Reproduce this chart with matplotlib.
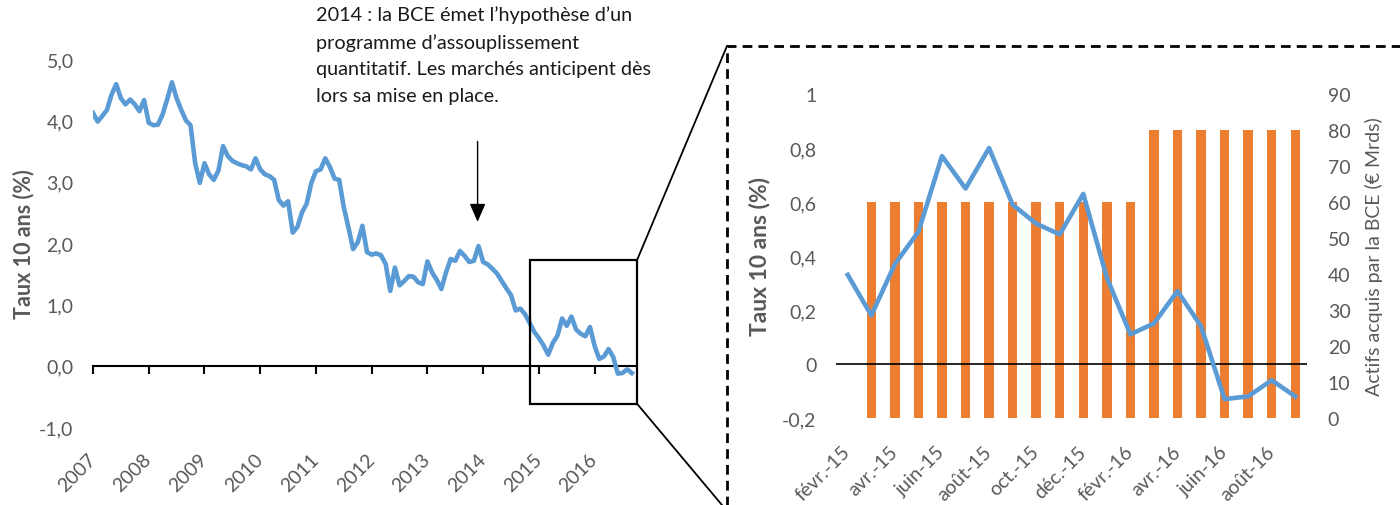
import matplotlib
matplotlib.use('Agg')
import matplotlib.pyplot as plt
from matplotlib.patches import Rectangle, ConnectionPatch
import numpy as np

# ── THEME ────────────────────────────────────────────────────────────────────
GRAY   = '#595959'
BLUE   = '#5B9BD5'
ORANGE = '#ED7D31'
FONT   = ['Lato', 'DejaVu Sans']

plt.rcParams.update({
    'font.family': FONT, 'font.size': 14,
    'xtick.color': GRAY, 'ytick.color': GRAY,
    'xtick.labelcolor': GRAY, 'ytick.labelcolor': GRAY,
})

# ── DATA ─────────────────────────────────────────────────────────────────────
# Taux 10 ans mensuel, janv. 2007 -> sept. 2016 (%)
taux_10ans = [
    4.12, 3.98, 4.07, 4.17, 4.42, 4.59, 4.36, 4.26, 4.34, 4.26, 4.15, 4.33,   # 2007
    3.96, 3.92, 3.93, 4.10, 4.35, 4.62, 4.36, 4.17, 4.00, 3.92, 3.30, 2.98,   # 2008
    3.30, 3.12, 3.03, 3.18, 3.58, 3.42, 3.34, 3.30, 3.27, 3.25, 3.20, 3.38,   # 2009
    3.20, 3.12, 3.09, 3.03, 2.70, 2.61, 2.68, 2.17, 2.26, 2.50, 2.64, 2.98,   # 2010
    3.17, 3.20, 3.38, 3.24, 3.05, 3.03, 2.58, 2.25, 1.90, 2.01, 2.28, 1.85,   # 2011
    1.81, 1.83, 1.80, 1.66, 1.22, 1.60, 1.31, 1.38, 1.46, 1.45, 1.36, 1.33,   # 2012
    1.70, 1.52, 1.40, 1.25, 1.52, 1.74, 1.71, 1.87, 1.79, 1.69, 1.71, 1.95,   # 2013
    1.69, 1.65, 1.58, 1.50, 1.38, 1.26, 1.15, 0.90, 0.93, 0.84, 0.70, 0.55,   # 2014
    0.45, 0.33, 0.18, 0.37, 0.49, 0.77, 0.65, 0.80, 0.59, 0.52, 0.48, 0.63,   # 2015
    0.32, 0.11, 0.15, 0.27, 0.14, -0.13, -0.12, -0.06, -0.12,                 # 2016
]
annees = 2007 + np.arange(len(taux_10ans)) / 12
annee_ticks = list(range(2007, 2017))

# Zoom : févr. 2015 -> sept. 2016
mois = ['févr.-15', 'mars-15', 'avr.-15', 'mai-15', 'juin-15', 'juil.-15',
        'août-15', 'sept.-15', 'oct.-15', 'nov.-15', 'déc.-15', 'janv.-16',
        'févr.-16', 'mars-16', 'avr.-16', 'mai-16', 'juin-16', 'juil.-16',
        'août-16', 'sept.-16']
taux_zoom = taux_10ans[-len(mois):]
actifs_bce = [0, 60, 60, 60, 60, 60, 60, 60, 60, 60, 60, 60, 60,
              80, 80, 80, 80, 80, 80, 80]

NOTE = ("2014 : la BCE émet l’hypothèse d’un\n"
        "programme d’assouplissement\n"
        "quantitatif. Les marchés anticipent dès\n"
        "lors sa mise en place.")

W, H = 1400, 506
fig = plt.figure(figsize=(W / 100, H / 100), dpi=100)

def frac(x0, y0, x1, y1):
    # pixel box (top-left origin) -> figure fraction rect
    return [x0 / W, 1 - y1 / H, (x1 - x0) / W, (y1 - y0) / H]

# ══════════════════════════════════════════════════════════════════════════════
# LEFT : long series
# ══════════════════════════════════════════════════════════════════════════════
ax = fig.add_axes(frac(93, 60, 637, 428))
ax.plot(annees, taux_10ans, color=BLUE, lw=3.3, solid_joinstyle='round',
        zorder=3)
ax.set_xlim(2007, 2016.76)
ax.set_ylim(-1, 5)
ax.set_yticks(np.arange(-1, 5.1, 1))
ax.set_yticklabels([f'{v:.1f}'.replace('.', ',') for v in np.arange(-1, 5.1, 1)])
ax.set_xticks(annee_ticks)
ax.set_xticklabels([str(a) for a in annee_ticks], rotation=45, ha='right',
                   rotation_mode='anchor', va='center')
ax.tick_params(axis='both', length=0, labelsize=14)
ax.tick_params(axis='y', pad=14)
ax.tick_params(axis='x', pad=21)
for s in ax.spines.values():
    s.set_visible(False)
ax.set_ylabel('Taux 10 ans (%)', color=GRAY, fontweight='bold', fontsize=15.5)
ax.yaxis.set_label_coords(-0.108, 0.5)

# horizontal axis drawn at y = 0 with year ticks
sec = ax.secondary_xaxis(1 / 6)
sec.set_xticks(annee_ticks)
sec.tick_params(length=6, width=1.5, direction='out', color='black',
                labelbottom=False)
sec.spines['bottom'].set_linewidth(1.5)
sec.spines['bottom'].set_color('black')

# annotation arrow
ax.annotate('', xy=(2013.9, 2.3), xytext=(2013.9, 3.7),
            arrowprops=dict(arrowstyle='-|>,head_width=0.35,head_length=0.8',
                            color='black', lw=1))
fig.text(316 / W, 1 - 6 / H, NOTE, ha='left', va='top', fontsize=14.3,
         color='#1a1a1a', linespacing=1.68)

# zoom frame
x0, x1, y0, y1 = 2014.84, 2016.76, -0.62, 1.72
ax.add_patch(Rectangle((x0, y0), x1 - x0, y1 - y0, fill=False,
                       edgecolor='black', lw=1.6, clip_on=False, zorder=4))

# dashed box around the zoom chart
BX, BY_TOP, BY_BOT = 727 / W, 1 - 47 / H, 1 - 512 / H
fig.add_artist(Rectangle((BX, BY_BOT), 1.0, BY_TOP - BY_BOT,
                         transform=fig.transFigure, fill=False,
                         edgecolor='black', lw=2, linestyle=(0, (3.5, 2.2))))
for (xa, ya), (xb, yb) in [((x1, y1), (BX, BY_TOP)), ((x1, y0), (BX, BY_BOT))]:
    fig.add_artist(ConnectionPatch(xyA=(xa, ya), coordsA=ax.transData,
                                   xyB=(xb, yb), coordsB=fig.transFigure,
                                   color='black', lw=1.3))

# ══════════════════════════════════════════════════════════════════════════════
# RIGHT : zoom 2015-2016 with ECB purchases
# ══════════════════════════════════════════════════════════════════════════════
axz = fig.add_axes(frac(836, 95, 1307, 419))
axb = axz.twinx()
pos = np.arange(len(mois))

axb.bar(pos, actifs_bce, width=0.4, color=ORANGE, zorder=2)
axb.set_ylim(0, 90)
axb.set_yticks(np.arange(0, 91, 10))
axb.tick_params(axis='y', length=0, pad=15, labelsize=14)
axb.set_ylabel('Actifs acquis par la BCE (€ Mrds)', color=GRAY, fontsize=14)
axb.yaxis.set_label_coords(1.123, 0.5)

axz.set_zorder(axb.get_zorder() + 1)
axz.patch.set_visible(False)
axz.plot(pos, taux_zoom, color=BLUE, lw=3.3, solid_joinstyle='round', zorder=3)
axz.axhline(0, color='black', lw=1.2, zorder=2)
axz.set_xlim(-0.5, len(mois) - 0.5)
axz.set_ylim(-0.2, 1.0)
yt = [-0.2, 0, 0.2, 0.4, 0.6, 0.8, 1.0]
axz.set_yticks(yt)
axz.set_yticklabels([f'{v:g}'.replace('.', ',') for v in yt])
axz.set_xticks(pos[::2])
axz.set_xticklabels(mois[::2], rotation=45, ha='right', rotation_mode='anchor',
                    va='center')
axz.tick_params(axis='both', length=0, labelsize=14)
axz.tick_params(axis='y', pad=14)
axz.tick_params(axis='x', pad=22)
axz.set_ylabel('Taux 10 ans (%)', color=GRAY, fontweight='bold', fontsize=16.5)
axz.yaxis.set_label_coords(-0.140, 0.5)

for a in (axz, axb):
    for s in a.spines.values():
        s.set_visible(False)

fig.savefig('out.png', dpi=100)
